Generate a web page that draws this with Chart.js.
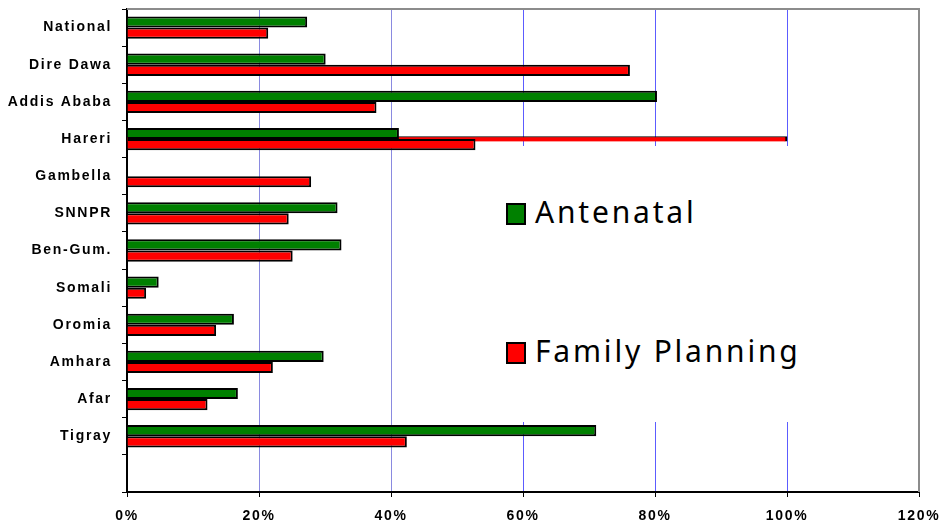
<!DOCTYPE html>
<html>
<head>
<meta charset="utf-8">
<script src="https://cdn.jsdelivr.net/npm/chart.js@4.4.1/dist/chart.umd.min.js"></script>
<style>
  body { margin: 0; background: #fff; }
  #wrap { position: relative; width: 942px; height: 524px; }
  #legendBox { position: absolute; left: 480px; top: 146px; width: 435px; height: 276px; background: #fff; }
  .item { position: absolute; left: 26px; height: 22px; }
  .swatch { position: absolute; left: 0; top: 0; width: 16px; height: 18px; border: 2px solid #000; }
  .label { position: absolute; left: 29px; top: -12px; white-space: nowrap;
           font-family: "Noto Sans", sans-serif; font-size: 30px; letter-spacing: 2.8px; line-height: 42px; color: #000; }
</style>
</head>
<body>
<div id="wrap">
  <canvas id="myChart"></canvas>
  <div id="legendBox">
    <div class="item" style="top:57px"><div class="swatch" style="background:#008000"></div><span class="label">Antenatal</span></div>
    <div class="item" style="top:196px"><div class="swatch" style="background:#ff0000"></div><span class="label">Family Planning</span></div>
  </div>
</div>
<script>
// regions top to bottom, last slot is empty in the original
const regions = ['National', 'Dire Dawa', 'Addis Ababa', 'Hareri', 'Gambella', 'SNNPR', 'Ben-Gum.', 'Somali', 'Oromia', 'Amhara', 'Afar', 'Tigray', '']
const antenatal = [27.3, 30.1, 80.3, 41.2, null, 31.9, 32.5, 4.8, 16.2, 29.8, 16.8, 71.1]
const familyPlanning = [21.4, 76.2, 37.8, 52.8, 27.9, 24.5, 25.1, 2.9, 13.5, 22.1, 12.2, 42.4]
// the thin red line on Hareri that runs out to 100%
const familyPlanningOverflow = [null, null, null, 100]
const xTicks = [0, 20, 40, 60, 80, 100, 120]

const spacing = {
  id: 'spacing',
  beforeLayout(chart) { chart.ctx.letterSpacing = '1.7px' },
  beforeDraw(chart) { chart.ctx.letterSpacing = '1.7px' }
}

const frame = {
  id: 'frame',
  beforeDatasetsDraw(chart) {
    const { ctx, chartArea: a } = chart
    ctx.save()
    ctx.strokeStyle = '#8c8c8c'
    ctx.lineWidth = 2
    ctx.beginPath()
    ctx.moveTo(a.left, a.top)
    ctx.lineTo(a.right, a.top)
    ctx.lineTo(a.right, a.bottom)
    ctx.stroke()
    ctx.restore()
  }
}

const gridColor = c => {
  if (!c.tick) return '#8080ff'
  const v = c.tick.value
  if (v === 0 || v === 120) return 'rgba(0,0,0,0)'
  return v < 60 ? '#8a8ae0' : '#5c5cff'
}

const tickFont = { family: '"Liberation Sans", Arial, sans-serif', size: 14, weight: 'bold' }

var ctx = document.getElementById('myChart')
var myBarChart = new Chart(ctx, {
  type: 'bar',
  data: {
    labels: regions,
    datasets: [
      {
        label: 'Antenatal',
        data: antenatal,
        backgroundColor: '#008000',
        borderColor: '#000',
        borderWidth: 2,
        categoryPercentage: 0.6,
        barPercentage: 1,
        order: 0
      },
      {
        label: 'Family Planning',
        data: familyPlanning,
        backgroundColor: '#ff0000',
        borderColor: '#000',
        borderWidth: 2,
        categoryPercentage: 0.6,
        barPercentage: 1,
        order: 0
      },
      {
        label: 'Family Planning (Hareri)',
        data: familyPlanningOverflow,
        backgroundColor: '#ff0000',
        borderColor: '#000',
        borderWidth: { top: 1, right: 2, bottom: 0, left: 0 },
        barThickness: 5,
        grouped: false,
        order: 1
      }
    ]
  },
  options: {
    indexAxis: 'y',
    responsive: true,
    maintainAspectRatio: false,
    animation: false,
    layout: { padding: { top: 9, right: 23, left: 0, bottom: 0 } },
    plugins: {
      legend: { display: false },
      tooltip: { enabled: false }
    },
    scales: {
      x: {
        min: 0,
        max: 120,
        afterBuildTicks: scale => { scale.ticks = xTicks.map(v => ({ value: v })) },
        afterFit: scale => {
          scale.height = 32
          scale.paddingLeft = 0
          scale.paddingRight = 0
        },
        border: { color: '#000', width: 2 },
        grid: {
          color: gridColor,
          tickColor: '#000',
          tickLength: 5,
          lineWidth: 1
        },
        ticks: {
          color: '#000',
          font: tickFont,
          padding: 11,
          maxRotation: 0,
          callback: v => v + '%'
        }
      },
      y: {
        afterFit: scale => {
          scale.width = 127
          scale.paddingTop = 0
          scale.paddingBottom = 0
        },
        border: { color: '#000', width: 2 },
        grid: {
          drawOnChartArea: false,
          tickColor: '#000',
          tickLength: 5
        },
        ticks: {
          color: '#000',
          font: tickFont,
          padding: 10
        }
      }
    }
  },
  plugins: [spacing, frame]
})
</script>
</body>
</html>
